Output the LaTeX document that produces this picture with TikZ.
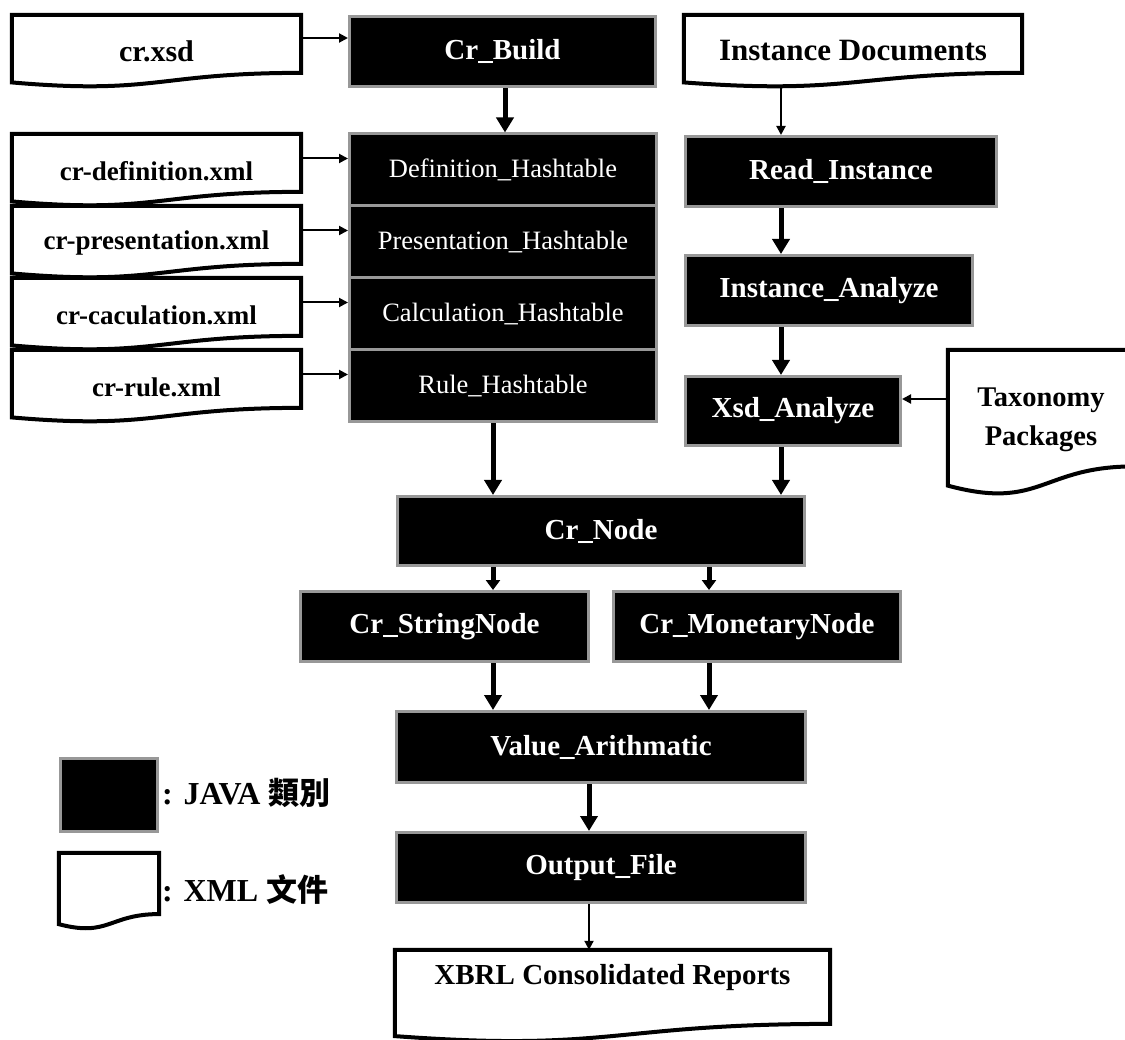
\documentclass[tikz,border=0pt]{standalone}
\usepackage{fontspec}
\setmainfont{Liberation Serif}
\newfontfamily\cjkfont{Noto Sans CJK TC}
\usetikzlibrary{arrows.meta,calc}
\pgfdeclarelayer{docs}
\pgfsetlayers{docs,main}

\definecolor{boxrim}{RGB}{152,152,152}

\tikzset{
  javabox/.style={draw=boxrim, line width=3pt, fill=black, text=white, inner sep=0pt,
    font=\bfseries\fontsize{29}{34}\selectfont},
  hashbox/.style={javabox, font=\fontsize{26.5}{30}\selectfont},
  docbox/.style={inner sep=0pt},
  docfont/.style={inner sep=0pt, font=\bfseries\fontsize{27}{30}\selectfont},
  docfontbig/.style={inner sep=0pt, font=\bfseries\fontsize{29}{34}\selectfont},
  docrim/.style={draw=black, line width=4pt, fill=white, line join=miter},
  thinarrow/.style={line width=2pt, -{Triangle[length=9pt,width=9pt]}},
  bigarrow/.style={line width=5pt, -{Triangle[length=15pt,width=17pt]}},
  midarrow/.style={line width=5pt, -{Triangle[length=10pt,width=14pt]}},
  legendtext/.style={inner sep=0pt, anchor=west, font=\bfseries\fontsize{32}{36}\selectfont},
}

% outline of an XML document: flat top, wavy bottom
\newcommand\docrimpath[1]{%
  \begin{pgfonlayer}{docs}
  \draw[docrim] (#1.north west) -- (#1.north east)
    -- ($(#1.north east)!0.802!(#1.south east)$)
    .. controls ($(#1.north)!0.802!(#1.south)$) and ($(#1.north)!1.108!(#1.south)$)
    .. ($(#1.north west)!0.934!(#1.south west)$) -- cycle;
  \end{pgfonlayer}}

\begin{document}
\begin{tikzpicture}[x=1pt, y=-1pt]
\useasboundingbox (0,0) rectangle (1125,1040);

% connector columns
\coordinate (colA) at (505,0);
\coordinate (colB) at (493,0);
\coordinate (colC) at (709,0);
\coordinate (colD) at (589,0);
\coordinate (colR) at (781,0);

% XML documents
\node[docbox, minimum width=289, minimum height=72,
  label={[docfontbig,font=\bfseries\fontsize{30}{34}\selectfont]center:cr.xsd}] (xsd) at (156.5,51) {};
\node[docbox, minimum width=289, minimum height=72,
  label={[docfont,yshift=-1.5pt]center:cr-definition.xml}] (defx) at (156.5,170) {};
\node[docbox, minimum width=289, minimum height=72,
  label={[docfont,yshift=-1.5pt]center:cr-presentation.xml}] (presx) at (156.5,242) {};
\node[docbox, minimum width=289, minimum height=72,
  label={[docfont,yshift=-1.5pt]center:cr-caculation.xml}] (calcx) at (156.5,314) {};
\node[docbox, minimum width=289, minimum height=72,
  label={[docfont,yshift=-1.5pt]center:cr-rule.xml}] (rulex) at (156.5,386) {};
\node[docbox, minimum width=338, minimum height=72,
  label={[docfontbig,font=\bfseries\fontsize{31}{34}\selectfont]center:Instance Documents}] (instdoc) at (853,51) {};
\node[docbox, minimum width=186, minimum height=145,
  label={[docfontbig,font=\bfseries\fontsize{28.5}{39}\selectfont,align=center,yshift=3pt]center:Taxonomy\\Packages}] (tax) at (1041,422.5) {};
\node[docbox, minimum width=435, minimum height=92,
  label={[docfontbig,yshift=18pt]center:XBRL Consolidated Reports}] (xbrl) at (612.5,996) {};
\node[docbox, minimum width=100, minimum height=76] (legdoc) at (109,891) {};

\foreach \d in {xsd,defx,presx,calcx,rulex,instdoc,tax,xbrl,legdoc}{\docrimpath{\d}}

% JAVA classes
\node[javabox, minimum width=306, minimum height=70] (crbuild) at (502.5,51.5) {Cr\_Build};
\node[hashbox, minimum width=307, minimum height=72] (defh)  at (503,170) {Definition\_Hashtable};
\node[hashbox, minimum width=307, minimum height=72] (presh) at (503,242) {Presentation\_Hashtable};
\node[hashbox, minimum width=307, minimum height=72] (calch) at (503,314) {Calculation\_Hashtable};
\node[hashbox, minimum width=307, minimum height=72] (ruleh) at (503,386) {Rule\_Hashtable};
\node[javabox, minimum width=311, minimum height=70] (readinst) at (841,171.5) {Read\_Instance};
\node[javabox, minimum width=287, minimum height=70] (instana) at (829,290.5) {Instance\_Analyze};
\node[javabox, minimum width=215, minimum height=69] (xsdana) at (793,411) {Xsd\_Analyze};
\node[javabox, minimum width=407, minimum height=69] (crnode) at (601,531) {Cr\_Node};
\node[javabox, minimum width=288, minimum height=70] (strnode) at (444.5,626.5) {Cr\_StringNode};
\node[javabox, minimum width=287, minimum height=70] (monnode) at (757,626.5) {Cr\_MonetaryNode};
\node[javabox, minimum width=409, minimum height=71] (valar) at (601,747) {Value\_Arithmatic};
\node[javabox, minimum width=409, minimum height=70] (outfile) at (601,867.5) {Output\_File};

% legend
\node[javabox, minimum width=97, minimum height=73] (legbox) at (109,795) {};
\node[legendtext] (legjava) at (162,793) {: JAVA {\cjkfont\fontsize{31}{36}\selectfont 類別}};
\node[legendtext] (legxml) at (162,889) {: XML {\cjkfont\fontsize{31}{36}\selectfont 文件}};

% inputs
\draw[thinarrow] ([yshift=13pt]xsd.east) -- ([yshift=13pt]xsd.east -| crbuild.west);
\draw[thinarrow] ([yshift=11.5pt]defx.east) -- ([yshift=11.5pt]defx.east -| defh.west);
\draw[thinarrow] ([yshift=11.5pt]presx.east) -- ([yshift=11.5pt]presx.east -| presh.west);
\draw[thinarrow] ([yshift=11.5pt]calcx.east) -- ([yshift=11.5pt]calcx.east -| calch.west);
\draw[thinarrow] ([yshift=11.5pt]rulex.east) -- ([yshift=11.5pt]rulex.east -| ruleh.west);
\draw[thinarrow] ([yshift=23.5pt]tax.west) -- ([yshift=23.5pt]tax.west -| xsdana.east);
\draw[thinarrow] (instdoc.south -| colR) -- (readinst.north -| colR);

% processing flow
\draw[bigarrow] (crbuild.south -| colA) -- (defh.north -| colA);
\draw[bigarrow] (readinst.south -| colR) -- (instana.north -| colR);
\draw[bigarrow] (instana.south -| colR) -- (xsdana.north -| colR);
\draw[bigarrow] (xsdana.south -| colR) -- (crnode.north -| colR);
\draw[bigarrow] (ruleh.south -| colB) -- (crnode.north -| colB);
\draw[midarrow] (crnode.south -| colB) -- (strnode.north -| colB);
\draw[midarrow] (crnode.south -| colC) -- (monnode.north -| colC);
\draw[bigarrow] (strnode.south -| colB) -- (valar.north -| colB);
\draw[bigarrow] (monnode.south -| colC) -- (valar.north -| colC);
\draw[bigarrow] (valar.south -| colD) -- (outfile.north -| colD);
\draw[thinarrow] (outfile.south -| colD) -- (xbrl.north -| colD);
\end{tikzpicture}
\end{document}
